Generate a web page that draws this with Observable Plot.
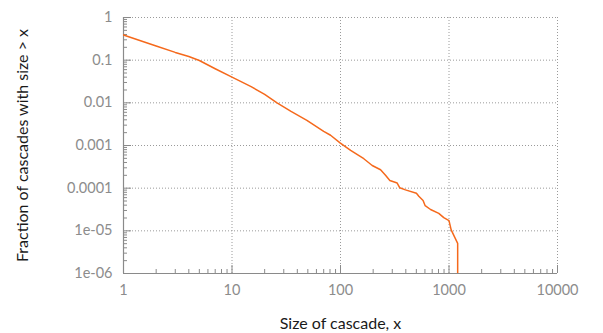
<!DOCTYPE html>
<html>
<head>
<meta charset="utf-8">
<script src="https://cdn.jsdelivr.net/npm/d3@7"></script>
<script src="https://cdn.jsdelivr.net/npm/@observablehq/plot@0.6"></script>
<style>
  html, body { margin: 0; padding: 0; background: #fff; }
  #chart { width: 603px; height: 333px; }
</style>
</head>
<body>
<div id="chart"></div>
<script>
// Cascade sizes (x) and fraction of cascades with size > x (CCDF)
const sizes = [1, 2, 3, 4, 5, 7, 10, 15, 20, 26, 35, 49, 70, 81, 99, 124, 164, 196, 234, 260, 285, 333, 352, 397, 501, 527, 577, 603, 676, 805, 895, 1000, 1047, 1202, 1202];
const fractions = [0.39, 0.215, 0.152, 0.122, 0.098, 0.063, 0.040, 0.024, 0.0158, 0.0100, 0.0063, 0.0039, 0.00214, 0.00174, 0.00115, 0.000767, 0.00049, 0.00034, 0.00027, 0.00020, 0.000151, 0.000132, 0.000102, 0.0000912, 0.0000759, 0.0000646, 0.0000513, 0.0000389, 0.0000316, 0.0000257, 0.0000204, 0.0000174, 0.0000105, 0.0000051, 0.0000001];

const xMajor = [1, 10, 100, 1000, 10000];
const xMajorLabels = ["1", "10", "100", "1000", "10000"];
const yMajor = [1, 0.1, 0.01, 0.001, 0.0001, 0.00001, 0.000001];
const yMajorLabels = ["1", "0.1", "0.01", "0.001", "0.0001", "1e-05", "1e-06"];
const multipliers = [2, 3, 4, 5, 6, 7, 8, 9];

const xMinor = xMajor.slice(0, -1).flatMap(d => multipliers.map(m => d * m));
const yMinor = yMajor.slice(1).flatMap(d => multipliers.map(m => d * m));
const data = sizes.map((s, i) => ({size: s, frac: fractions[i]}));
const xLabelData = xMajor.map((v, i) => ({v, t: xMajorLabels[i]}));
const yLabelData = yMajor.map((v, i) => ({v, t: yMajorLabels[i]}));

const gridColor = "#9a9a9a";
const axisColor = "#8a8a8a";
const labelColor = "#8c8c8c";
const font = "Lato, 'Open Sans', sans-serif";

const chart = Plot.plot({
  width: 603,
  height: 333,
  marginLeft: 123,
  marginRight: 46,
  marginTop: 17,
  marginBottom: 60,
  style: {fontFamily: font, background: "#fff"},
  x: {type: "log", domain: [1, 10000], axis: null},
  y: {type: "log", domain: [0.000001, 1], axis: null},
  marks: [
    Plot.gridX(xMajor, {stroke: gridColor, strokeOpacity: 1, strokeDasharray: "1,2"}),
    Plot.gridY(yMajor, {stroke: gridColor, strokeOpacity: 1, strokeDasharray: "1,2"}),
    // inward minor ticks
    Plot.axisX({ticks: xMinor, tickSize: 4, dy: -4, text: null, label: null, stroke: axisColor}),
    Plot.axisY({ticks: yMinor, tickSize: 4, dx: 4, text: null, label: null, stroke: axisColor}),
    // inward major ticks
    Plot.axisX({ticks: xMajor, tickSize: 8, dy: -8, text: null, label: null, stroke: axisColor}),
    Plot.axisY({ticks: yMajor, tickSize: 8, dx: 8, text: null, label: null, stroke: axisColor}),
    // tick labels
    Plot.text(xLabelData, {x: "v", text: "t", frameAnchor: "bottom", lineAnchor: "top", dy: 11,
      fill: labelColor, fontSize: 14.5}),
    Plot.text(yLabelData, {y: "v", text: "t", frameAnchor: "left", textAnchor: "end", dx: -11,
      fill: labelColor, fontSize: 14.5}),
    // axis lines
    Plot.ruleY([0.000001], {stroke: axisColor, strokeWidth: 1.2}),
    Plot.ruleX([1], {stroke: axisColor, strokeWidth: 1.2}),
    // data
    Plot.line(data, {x: "size", y: "frac", stroke: "#f5691c", strokeWidth: 1.5, clip: true}),
    // axis titles
    Plot.text(["Size of cascade, x"], {frameAnchor: "bottom", lineAnchor: "middle", dy: 50, fontSize: 16, fill: "#1a1a1a"}),
    Plot.text(["Fraction of cascades with size > x"], {frameAnchor: "left", textAnchor: "middle", dx: -101, rotate: -90, fontSize: 16, fill: "#1a1a1a"})
  ]
});
document.getElementById("chart").appendChild(chart);
</script>
</body>
</html>
